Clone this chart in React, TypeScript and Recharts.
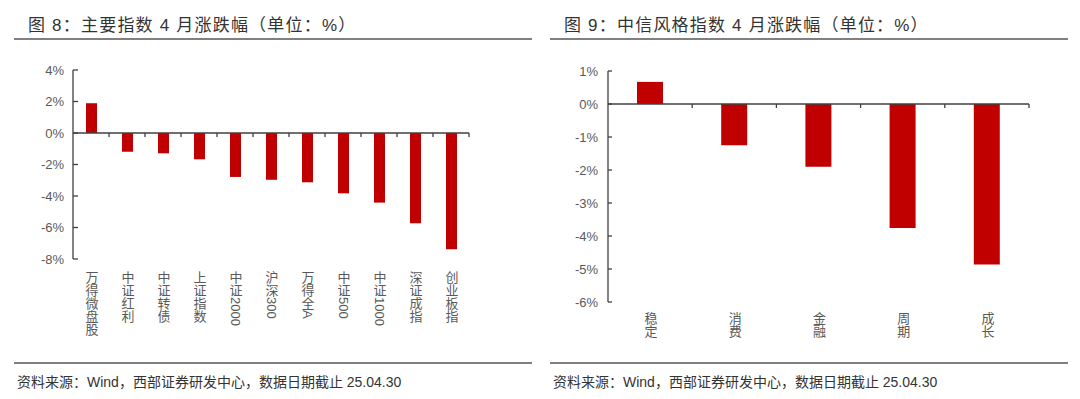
import { BarChart, Bar, XAxis, YAxis, ReferenceLine } from 'recharts';

// 图8 主要指数 4 月涨跌幅
const indexNames = ['万得微盘股', '中证红利', '中证转债', '上证指数', '中证2000', '沪深300', '万得全A', '中证500', '中证1000', '深证成指', '创业板指'];
const indexChange = [1.89, -1.19, -1.29, -1.67, -2.79, -2.97, -3.13, -3.83, -4.42, -5.73, -7.38];
const indexTicks = [-8, -6, -4, -2, 0, 2, 4];

// 图9 中信风格指数 4 月涨跌幅
const styleNames = ['稳定', '消费', '金融', '周期', '成长'];
const styleChange = [0.67, -1.25, -1.9, -3.76, -4.86];
const styleTicks = [-6, -5, -4, -3, -2, -1, 0, 1];

const titles = ['图 8：主要指数 4 月涨跌幅（单位：%）', '图 9：中信风格指数 4 月涨跌幅（单位：%）'];
const source = '资料来源：Wind，西部证券研发中心，数据日期截止 25.04.30';

const RED = '#C00000';
const AXIS = '#404040';
const TICK_TEXT = '#595959';
// latin glyphs from Liberation Sans, CJK falls through to Noto
const MIXED = '"Liberation Sans", "Noto Sans CJK SC", sans-serif';
const NUM = '"Liberation Sans", Arial, sans-serif';

const indexData = indexNames.map((name, i) => ({ name, value: indexChange[i] }));
const styleData = styleNames.map((name, i) => ({ name, value: styleChange[i] }));

// vertical category label under the plot
function VerticalTick({ x, y, payload, dy }: any) {
  return (
    <text
      x={x}
      y={y + dy}
      fill={TICK_TEXT}
      fontSize={13}
      fontFamily={MIXED}
      style={{ writingMode: 'vertical-rl' }}
    >
      {payload.value}
    </text>
  );
}

// zero line acting as the category axis, with a tick at every category boundary
const zeroAxis = (n: number, tick: number) => (props: any) => {
  const { x1, x2, y1 } = props;
  const step = (x2 - x1) / n;
  const marks = [];
  for (let i = 1; i <= n; i++) {
    const x = x1 + step * i;
    marks.push(<line key={i} x1={x} x2={x} y1={y1} y2={y1 + tick} stroke={AXIS} strokeWidth={1.3} />);
  }
  return (
    <g>
      <line x1={x1} x2={x2} y1={y1} y2={y1} stroke={AXIS} strokeWidth={1.3} />
      {marks}
    </g>
  );
};

const pct = (v: number) => `${v}%`;

function Frame({ left, title }: { left: number; title: string }) {
  return (
    <>
      <div style={{ position: 'absolute', left: left + 14, top: 11, fontFamily: MIXED, fontSize: 17, letterSpacing: 1.2, color: '#333', whiteSpace: 'nowrap' }}>
        {title}
      </div>
      <div style={{ position: 'absolute', left: left, top: 38, width: 518, height: 2, background: '#808080' }} />
      <div style={{ position: 'absolute', left: left, top: 362, width: 518, height: 2, background: '#808080' }} />
      <div style={{ position: 'absolute', left: left + 3, top: 371, fontFamily: MIXED, fontSize: 14, color: '#333', whiteSpace: 'nowrap' }}>
        {source}
      </div>
    </>
  );
}

export default function App() {
  return (
    <div style={{ position: 'absolute', left: 0, top: 0, width: 1080, height: 399, background: '#fff', overflow: 'hidden' }}>
      <Frame left={14} title={titles[0]} />
      <Frame left={550} title={titles[1]} />

      <div style={{ position: 'absolute', left: 0, top: 0 }}>
        <BarChart width={540} height={360} data={indexData} margin={{ top: 70, right: 71, left: 23, bottom: 11 }}>
          <XAxis
            dataKey="name"
            axisLine={false}
            tickLine={false}
            interval={0}
            height={90}
            tick={<VerticalTick dy={4} />}
          />
          <YAxis
            domain={[-8, 4]}
            ticks={indexTicks}
            tickFormatter={pct}
            width={50}
            axisLine={{ stroke: AXIS, strokeWidth: 1.3 }}
            tickLine={{ stroke: AXIS, strokeWidth: 1.3 }}
            tickSize={-5}
            tickMargin={14}
            tick={{ fill: TICK_TEXT, fontSize: 13, fontFamily: NUM }}
          />
          <Bar dataKey="value" fill={RED} barSize={11} isAnimationActive={false} />
          <ReferenceLine y={0} shape={zeroAxis(indexNames.length, 4)} />
        </BarChart>
      </div>

      <div style={{ position: 'absolute', left: 540, top: 0 }}>
        <BarChart width={540} height={360} data={styleData} margin={{ top: 71, right: 51, left: 18, bottom: 8 }}>
          <XAxis
            dataKey="name"
            axisLine={false}
            tickLine={false}
            interval={0}
            height={50}
            tick={<VerticalTick dy={2} />}
          />
          <YAxis
            domain={[-6, 1]}
            ticks={styleTicks}
            tickFormatter={pct}
            width={50}
            axisLine={{ stroke: AXIS, strokeWidth: 1.3 }}
            tickLine={{ stroke: AXIS, strokeWidth: 1.3 }}
            tickSize={-4}
            tickMargin={14}
            tick={{ fill: TICK_TEXT, fontSize: 13, fontFamily: NUM }}
          />
          <Bar dataKey="value" fill={RED} barSize={26} isAnimationActive={false} />
          <ReferenceLine y={0} shape={zeroAxis(styleNames.length, 4)} />
        </BarChart>
      </div>
    </div>
  );
}
